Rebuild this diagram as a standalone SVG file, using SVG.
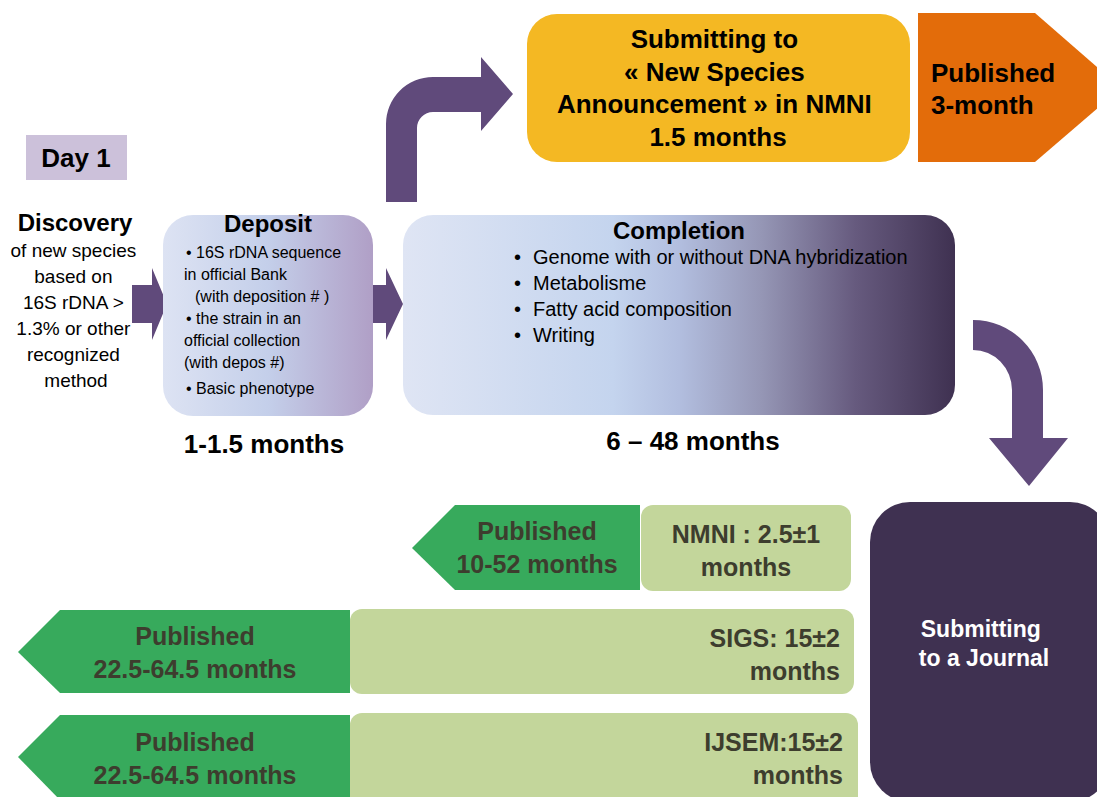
<svg xmlns="http://www.w3.org/2000/svg" width="1097" height="797" viewBox="0 0 1097 797">
<defs>
<linearGradient id="gDep" x1="0" y1="0" x2="1" y2="0">
<stop offset="0" stop-color="#dde3f3"/>
<stop offset="0.5" stop-color="#c4cfea"/>
<stop offset="1" stop-color="#b09fc6"/>
</linearGradient>
<linearGradient id="gComp" x1="0" y1="0" x2="1" y2="0">
<stop offset="0" stop-color="#dfe5f4"/>
<stop offset="0.38" stop-color="#c4d4ee"/>
<stop offset="0.5" stop-color="#b2bedf"/>
<stop offset="0.65" stop-color="#9596b5"/>
<stop offset="0.82" stop-color="#665a7e"/>
<stop offset="1" stop-color="#3f3151"/>
</linearGradient>
<style>
.arrow{fill:#604a7b;}
.t{font-family:"Liberation Sans",Arial,sans-serif;fill:#000;}
.b{font-weight:bold;}
.mid{text-anchor:middle;}
.end{text-anchor:end;}
.gt{font-family:"Liberation Sans",Arial,sans-serif;font-weight:bold;fill:#3d3d2e;font-size:25px;}
.green{fill:#37aa5c;}
.lgreen{fill:#c3d69b;}
</style>
</defs>

<g id="connectors">
<path class="arrow" d="M132,285 L152,285 L152,268 L167,304 L152,340 L152,323 L132,323 Z"/>
<path class="arrow" d="M368,285 L386,285 L386,268 L403,304 L386,340 L386,323 L368,323 Z"/>
<path class="arrow" d="M386,202 L386,124 A47,47 0 0 1 433,77 L481,77 L481,57 L513,94 L481,131 L481,112 L433,112 A16,16 0 0 0 417,128 L417,202 Z"/>
<path class="arrow" d="M973,320 A70,70 0 0 1 1043,390 L1043,438 L1068,438 L1029,486 L989,438 L1012,438 L1012,390 A39,40 0 0 0 973,350 Z"/>
</g>

<g id="day1">
<rect x="26" y="135" width="101" height="45" fill="#ccc1da"/>
<text class="t b mid" x="76" y="167" font-size="26">Day 1</text>
</g>

<g id="discovery">
<text class="t b mid" x="75" y="231" font-size="24">Discovery</text>
<text class="t mid" font-size="19">
<tspan x="76" y="257">of new species</tspan>
<tspan x="76" y="283">based on</tspan>
<tspan x="76" y="309">16S rDNA  &gt;</tspan>
<tspan x="76" y="335">1.3% or other</tspan>
<tspan x="76" y="361">recognized</tspan>
<tspan x="76" y="387">method</tspan>
</text>
</g>

<g id="deposit">
<rect x="163" y="215" width="210" height="201" rx="30" fill="url(#gDep)"/>
<text class="t b mid" x="268" y="232" font-size="24">Deposit</text>
<text class="t" font-size="16">
<tspan x="186" y="258">•  16S rDNA sequence</tspan>
<tspan x="184" y="280">in official Bank</tspan>
<tspan x="195" y="302">(with deposition # )</tspan>
<tspan x="186" y="324">•  the strain in an</tspan>
<tspan x="184" y="346">official collection</tspan>
<tspan x="184" y="368">(with depos #)</tspan>
<tspan x="186" y="394">•  Basic phenotype</tspan>
</text>
<text class="t b mid" x="264" y="453" font-size="26">1-1.5 months</text>
</g>

<g id="completion">
<rect x="403" y="215" width="552" height="200" rx="30" fill="url(#gComp)"/>
<text class="t b mid" x="679" y="239" font-size="24">Completion</text>
<text class="t" font-size="20">
<tspan x="514" y="264">•</tspan><tspan x="533" y="264">Genome with or without DNA hybridization</tspan>
<tspan x="514" y="290">•</tspan><tspan x="533" y="290">Metabolisme</tspan>
<tspan x="514" y="316">•</tspan><tspan x="533" y="316">Fatty acid composition</tspan>
<tspan x="514" y="342">•</tspan><tspan x="533" y="342">Writing</tspan>
</text>
<text class="t b mid" x="693" y="450" font-size="26">6 – 48 months</text>
</g>

<g id="nsa">
<rect x="527" y="14" width="383" height="148" rx="30" fill="#f4b823"/>
<text class="t b mid" font-size="26">
<tspan x="718" y="48">Submitting to</tspan>
<tspan x="718" y="81">« New Species</tspan>
<tspan x="718" y="113">Announcement » in NMNI</tspan>
<tspan x="718" y="146">1.5 months</tspan>
</text>
</g>

<g id="published3">
<polygon points="918,13 1035,13 1121,88 1035,162 918,162" fill="#e36c0a"/>
<text class="t b" font-size="26">
<tspan x="931" y="82">Published</tspan>
<tspan x="931" y="114">3-month</tspan>
</text>
</g>

<g id="journal">
<rect x="870" y="502" width="240" height="300" rx="40" fill="#3f3151"/>
<text class="t b mid" font-size="23" style="fill:#fff">
<tspan x="984" y="637">Submitting</tspan>
<tspan x="984" y="666">to a Journal</tspan>
</text>
</g>

<g id="nmni">
<rect x="641" y="505" width="210" height="86" rx="12" class="lgreen"/>
<text class="gt mid"><tspan x="746" y="543">NMNI : 2.5±1</tspan><tspan x="746" y="576">months</tspan></text>
</g>
<g id="pub-nmni">
<polygon class="green" points="412,548 455,505 640,505 640,590 455,590"/>
<text class="gt mid"><tspan x="537" y="540">Published</tspan><tspan x="537" y="573">10-52  months</tspan></text>
</g>

<g id="sigs">
<rect x="350" y="609" width="504" height="85" rx="12" class="lgreen"/>
<text class="gt end"><tspan x="840" y="647">SIGS: 15±2</tspan><tspan x="840" y="680">months</tspan></text>
</g>
<g id="pub-sigs">
<polygon class="green" points="18,652 60,610 350,610 350,693 60,693"/>
<text class="gt mid"><tspan x="195" y="645">Published</tspan><tspan x="195" y="678">22.5-64.5 months</tspan></text>
</g>

<g id="ijsem">
<rect x="350" y="713" width="508" height="95" rx="12" class="lgreen"/>
<text class="gt end"><tspan x="843" y="751">IJSEM:15±2</tspan><tspan x="843" y="784">months</tspan></text>
</g>
<g id="pub-ijsem">
<polygon class="green" points="18,757 60,715 350,715 350,800 60,800"/>
<text class="gt mid"><tspan x="195" y="751">Published</tspan><tspan x="195" y="784">22.5-64.5 months</tspan></text>
</g>
</svg>
